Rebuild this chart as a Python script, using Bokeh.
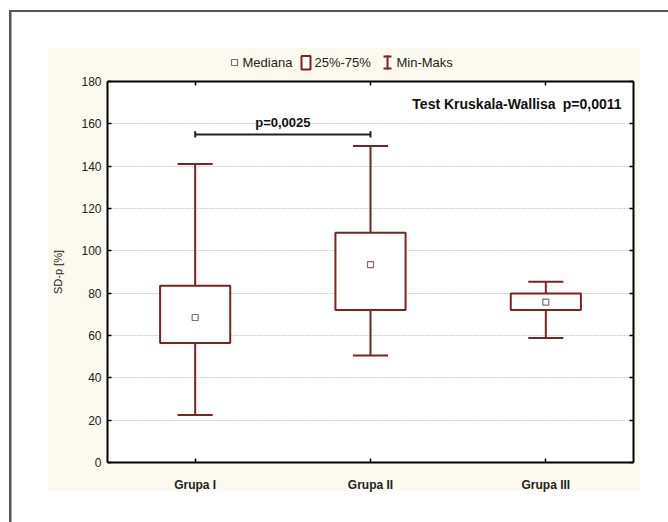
from bokeh.plotting import figure
from bokeh.layouts import column
from bokeh.models import FixedTicker, LinearAxis, Range1d, Label
from bokeh.core.properties import value
from bokeh.embed import file_html
from bokeh.resources import INLINE

# ---- data ----
groups = ["Grupa I", "Grupa II", "Grupa III"]
medians = [68.5, 93.5, 75.8]
q1 = [56.5, 72.0, 72.0]
q3 = [83.5, 108.5, 79.8]
mins = [22.5, 50.5, 58.8]
maxs = [141.0, 149.5, 85.4]
y_ticks = [0, 20, 40, 60, 80, 100, 120, 140, 160, 180]
sig_pair = [1, 2]          # Grupa I vs Grupa II
sig_level = 155
sig_text = "p=0,0025"
kw_name = "Test Kruskala-Wallisa"
kw_p = "p=0,0011"
legend_labels = ["Mediana", "25%-75%", "Min-Maks"]
y_label = "SD-p [%]"

# ---- styles / layout ----
FONT = "Liberation Sans"
MAROON = "#7a2323"
MED = "#8a6a6a"
BEIGE = "#fcfaee"
W, H = 668, 522
TOPH = 72                              # height of the legend strip
FL, FR, FT, FB = 107, 633, 81, 462     # frame edges in page pixels

xs = [i + 1 for i in range(len(groups))]


def px2x(px):
    return 0.5 + (px - FL) / (FR - FL) * 3.0


def px2y(py):
    return (FB - py) / (FB - FT) * 180.0


# ================= legend strip (page pixel coordinates) =================
lg = figure(width=W, height=TOPH, x_range=Range1d(FL, FR), y_range=Range1d(TOPH, 0),
            output_backend="svg", toolbar_location=None, tools="",
            x_axis_location=None, y_axis_location=None,
            min_border_left=FL, min_border_right=W - FR,
            min_border_top=0, min_border_bottom=0,
            border_fill_color=None, background_fill_color=None,
            outline_line_color=None)
lg.grid.visible = False
LY = 62
lg.scatter(x=[234], y=[LY], marker="square", size=6, fill_color="white",
           line_color=MED, line_width=1.2)
lg.quad(left=[301], right=[310], top=[55.5], bottom=[69], fill_color="white",
        line_color=MAROON, line_width=2)
lg.segment(x0=[387, 383, 383], y0=[55, 56, 68], x1=[387, 391, 391], y1=[69, 56, 68],
           line_color=MAROON, line_width=2)
lg.text(x=[242, 314, 396], y=[LY] * 3, text=legend_labels, text_font=value(FONT),
        text_font_size="13px", text_align="left", text_baseline="middle",
        text_color="#222222")

# ================= main chart =================
MH = H - TOPH
p = figure(width=W, height=MH, x_range=Range1d(0.5, 3.5), y_range=Range1d(0, 180),
           output_backend="svg", toolbar_location=None, tools="",
           min_border_left=FL, min_border_right=W - FR,
           min_border_top=FT - TOPH, min_border_bottom=H - FB,
           border_fill_color=None, background_fill_color="white",
           outline_line_color=None)

for ax in (p.xaxis[0], p.yaxis[0]):
    ax.axis_line_color = "black"
    ax.axis_line_width = 2
    ax.major_tick_in = 4
    ax.major_tick_out = 0
    ax.major_tick_line_color = "black"
    ax.major_tick_line_width = 1.5
    ax.minor_tick_line_color = None
    ax.major_label_text_font = FONT
    ax.major_label_text_color = "#222222"

p.xaxis.ticker = FixedTicker(ticks=xs)
p.xaxis.major_label_overrides = {x: g for x, g in zip(xs, groups)}
p.xaxis.major_label_text_font_style = "bold"
p.xaxis.major_label_text_font_size = "12px"
p.xaxis.major_label_standoff = 15

p.yaxis.ticker = FixedTicker(ticks=y_ticks)
p.yaxis.major_label_text_font_size = "12px"
p.yaxis.major_label_standoff = 6
p.yaxis.axis_label = y_label
p.yaxis.axis_label_text_font = FONT
p.yaxis.axis_label_text_font_style = "normal"
p.yaxis.axis_label_text_font_size = "11px"
p.yaxis.axis_label_text_color = "#222222"
p.yaxis.axis_label_standoff = 14

top_ax = LinearAxis(ticker=FixedTicker(ticks=xs), axis_line_width=2, axis_line_color="black",
                    major_tick_in=4, major_tick_out=0, major_tick_line_width=1.5,
                    minor_tick_line_color=None, major_label_text_color=None,
                    major_label_standoff=0)
right_ax = LinearAxis(ticker=FixedTicker(ticks=y_ticks), axis_line_width=2, axis_line_color="black",
                      major_tick_in=4, major_tick_out=0, major_tick_line_width=1.5,
                      minor_tick_line_color=None, major_label_text_color=None,
                      major_label_standoff=0)
p.add_layout(top_ax, "above")
p.add_layout(right_ax, "right")

p.xgrid.grid_line_color = None
p.ygrid.ticker = FixedTicker(ticks=y_ticks)
p.ygrid.grid_line_color = "#cccccc"
p.ygrid.grid_line_dash = "2 1"
p.ygrid.grid_line_width = 1

# whiskers
p.segment(x0=xs, y0=q3, x1=xs, y1=maxs, line_color=MAROON, line_width=2)
p.segment(x0=xs, y0=q1, x1=xs, y1=mins, line_color=MAROON, line_width=2)
cap = 0.1
p.segment(x0=[x - cap for x in xs], y0=maxs, x1=[x + cap for x in xs], y1=maxs,
          line_color=MAROON, line_width=2)
p.segment(x0=[x - cap for x in xs], y0=mins, x1=[x + cap for x in xs], y1=mins,
          line_color=MAROON, line_width=2)
# boxes
p.vbar(x=xs, width=0.4, top=q3, bottom=q1, fill_color="white",
       line_color=MAROON, line_width=2)
# medians
p.scatter(x=xs, y=medians, marker="square", size=6, fill_color="white",
          line_color=MED, line_width=1.2)

# significance bracket
tick_h = 1.5
p.segment(x0=[sig_pair[0]], y0=[sig_level], x1=[sig_pair[1]], y1=[sig_level],
          line_color="#222222", line_width=2)
p.segment(x0=sig_pair, y0=[sig_level - tick_h] * 2, x1=sig_pair, y1=[sig_level + tick_h] * 2,
          line_color="#222222", line_width=2)
p.text(x=[(sig_pair[0] + sig_pair[1]) / 2], y=[sig_level + 2], text=[sig_text],
       text_font=value(FONT), text_font_style="bold", text_font_size="13px",
       text_align="center", text_baseline="bottom", text_color="#111111")

# Kruskal-Wallis annotation
p.add_layout(Label(x=px2x(555), y=px2y(103), text=kw_name, text_font=FONT,
                   text_font_style="bold", text_font_size="14px", text_align="right",
                   text_baseline="middle", text_color="#111111"))
p.add_layout(Label(x=px2x(621), y=px2y(103), text=kw_p, text_font=FONT,
                   text_font_style="bold", text_font_size="14px", text_align="right",
                   text_baseline="middle", text_color="#111111"))

# page background: white, beige panel and grey outer frame lines (CSS)
bg = ", ".join([
    "linear-gradient(#555555, #555555) 9px 10px / 2.5px 600px no-repeat",
    "linear-gradient(#555555, #555555) 9px 10px / 700px 2px no-repeat",
    f"linear-gradient({BEIGE}, {BEIGE}) 48px 48px / 592px 443px no-repeat",
    "#ffffff",
])
layout = column(lg, p, spacing=0, styles={"background": bg})

open("out.html", "w").write(file_html(layout, INLINE))
